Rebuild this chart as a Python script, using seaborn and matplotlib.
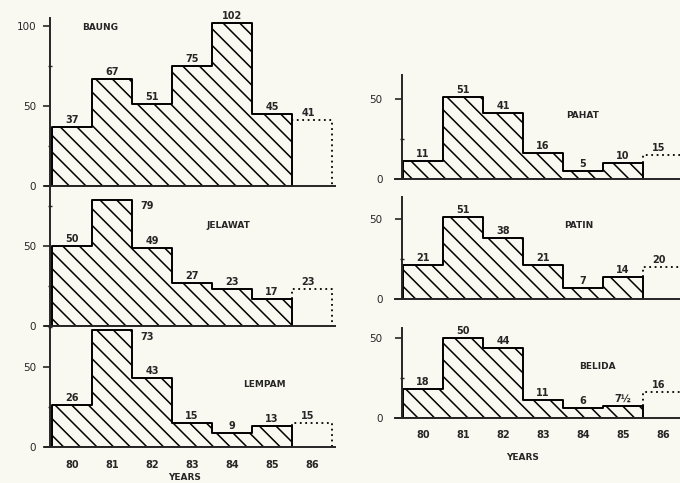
import numpy as np
import pandas as pd
import seaborn as sns
import matplotlib.pyplot as plt

# catch per year (1980-85), 1986 value only estimated (dotted)
years = ['80', '81', '82', '83', '84', '85', '86']

baung = [37, 67, 51, 75, 102, 45]
jelawat = [50, 79, 49, 27, 23, 17]
lempam = [26, 73, 43, 15, 9, 13]
pahat = [11, 51, 41, 16, 5, 10]
patin = [21, 51, 38, 21, 7, 14]
belida = [18, 50, 44, 11, 6, 7.5]

est_86 = [41, 23, 15, 15, 20, 16]
belida_labels = ['18', '50', '44', '11', '6', '7½']

bg = '#f9f9f1'
sns.set_style('ticks')
plt.rcParams['hatch.linewidth'] = 1.1
plt.rcParams['font.family'] = ['DejaVu Sans']

W, H = 680, 483
PX = 1.6  # pixels per unit on the y axis
fig = plt.figure(figsize=(W / 100, H / 100), dpi=100, facecolor=bg)


def px_axes(x0, x1, ytop, ybot):
    return fig.add_axes([x0 / W, 1 - ybot / H, (x1 - x0) / W, (ybot - ytop) / H])


def panel(ax, name, vals, v86, labels, col, ymax, name_xy, beside=None, yt=(0, 50), bottom=False):
    n = len(vals)
    df = pd.DataFrame({'year': np.arange(n) + 0.5, 'catch': vals})
    sns.histplot(data=df, x='year', weights='catch', binwidth=1, binrange=(0, n),
                 element='step', fill=True, facecolor=bg, edgecolor='black',
                 hatch='\\\\', linewidth=1.4, alpha=1, ax=ax)
    # 1986 estimate, dotted
    ax.plot([n, n, n + 1, n + 1], [vals[-1], v86, v86, 0], ls=(0, (1, 2)),
            color='black', lw=1.3, clip_on=False)

    fs = 7
    for i, (v, lab) in enumerate(zip(vals, labels)):
        if i == beside:
            ax.text(i + 1.2, v - 1, lab, ha='left', va='top', fontsize=fs, fontweight='bold')
        else:
            ax.annotate(lab, (i + 0.5, v), xytext=(0, 1.5), textcoords='offset points',
                        ha='center', va='bottom', fontsize=fs, fontweight='bold')
    ax.annotate(str(v86), (n + 0.4, v86), xytext=(0, 1.5), textcoords='offset points',
                ha='center', va='bottom', fontsize=fs, fontweight='bold')
    ax.text(name_xy[0], name_xy[1], name, ha='center', va='center', fontsize=6.5,
            fontweight='bold')

    if col == 'left':
        ax.set_xlim(-0.175, 7.075)
        ax.spines['left'].set_position(('data', -0.05))
        pad = 5
    else:
        ax.set_xlim(-0.2, 6.925)
        ax.spines['left'].set_position(('data', -0.025))
        pad = 9
    ax.set_ylim(0, ymax)
    ax.set_facecolor('none')
    for s in ['top', 'right']:
        ax.spines[s].set_visible(False)
    for s in ['left', 'bottom']:
        ax.spines[s].set_linewidth(1.4)
    ax.set_xlabel('')
    ax.set_ylabel('')
    ax.set_yticks(list(yt))
    ax.set_yticks([t + 25 for t in yt if t + 25 < ymax], minor=True)
    ax.tick_params(axis='y', which='major', length=5, width=1.2, pad=pad, labelsize=7.5)
    ax.tick_params(axis='y', which='minor', length=3, width=1.0, direction='inout')
    if bottom:
        ax.set_xticks(np.arange(n + 1) + 0.5, years)
        ax.tick_params(axis='x', length=0, pad=9, labelsize=7)
        for t in ax.get_xticklabels():
            t.set_fontweight('bold')
    else:
        ax.set_xticks([])


# left column
ax1 = px_axes(45, 335, 18, 186)
panel(ax1, 'BAUNG', baung, est_86[0], [str(v) for v in baung], 'left',
      (186 - 18) / PX, (1.2, 99), yt=(0, 50, 100))
ax2 = px_axes(45, 335, 186, 326)
panel(ax2, 'JELAWAT', jelawat, est_86[1], [str(v) for v in jelawat], 'left',
      (326 - 186) / PX, (4.4, 63), beside=1)
ax3 = px_axes(45, 335, 326, 447)
panel(ax3, 'LEMPAM', lempam, est_86[2], [str(v) for v in lempam], 'left',
      (447 - 326) / PX, (5.3, 39), beside=1, bottom=True)

# right column
ax4 = px_axes(395, 680, 75, 179)
panel(ax4, 'PAHAT', pahat, est_86[3], [str(v) for v in pahat], 'right',
      (179 - 75) / PX, (4.5, 40))
ax5 = px_axes(395, 680, 197, 299)
panel(ax5, 'PATIN', patin, est_86[4], [str(v) for v in patin], 'right',
      (299 - 197) / PX, (4.4, 46))
ax6 = px_axes(395, 680, 328, 418)
panel(ax6, 'BELIDA', belida, est_86[5], belida_labels, 'right',
      (418 - 328) / PX, (4.85, 32), bottom=True)

fig.text(185 / W, 1 - 477 / H, 'YEARS', ha='center', va='center', fontsize=6.5, fontweight='bold')
fig.text(523 / W, 1 - 457 / H, 'YEARS', ha='center', va='center', fontsize=6.5, fontweight='bold')

fig.savefig('out.png', dpi=100, facecolor=bg)
